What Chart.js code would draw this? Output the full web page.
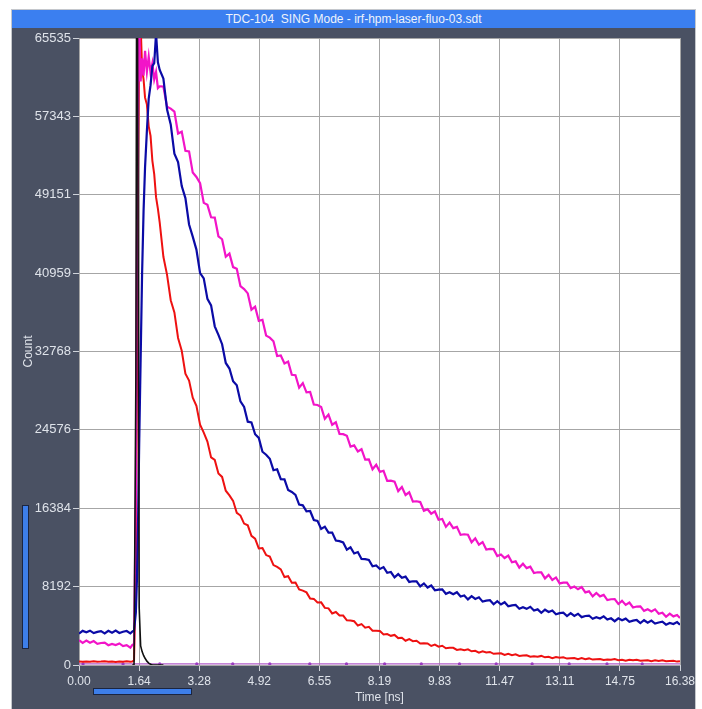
<!DOCTYPE html>
<html>
<head>
<meta charset="utf-8">
<title>TDC-104 SING Mode</title>
<script src="https://cdn.jsdelivr.net/npm/chart.js@4.4.1/dist/chart.umd.min.js"></script>
<style>
  html, body { margin: 0; padding: 0; background: #fff; }
  body { width: 702px; height: 709px; position: relative; overflow: hidden; font-family: "Liberation Sans", Arial, sans-serif; }
  #marco { position: absolute; left: 11px; top: 9px; width: 685px; height: 700px; background: #4a5163; border: 1px solid #c4c7cc; border-bottom: none; box-sizing: border-box; }
  #titulo { position: absolute; left: 12px; top: 10px; width: 683px; height: 18px; background: #3b7ff0; color: #eef3fb; font-size: 12px; line-height: 18px; text-align: center; white-space: pre; }
  #grafico { position: absolute; left: 0; top: 0; }
  .barra { position: absolute; background: #3d7ee9; border: 1px solid #1b2540; box-sizing: border-box; }
</style>
</head>
<body>
<div id="marco"></div>
<div id="titulo">TDC-104  SING Mode - irf-hpm-laser-fluo-03.sdt</div>
<canvas id="grafico" width="702" height="709"></canvas>
<div class="barra" style="left:22px; top:505px; width:7px; height:144px;"></div>
<div class="barra" style="left:93px; top:688px; width:99px; height:7px;"></div>
<script>
// Ejes
const xTicks = [0, 1.638, 3.276, 4.914, 6.552, 8.19, 9.828, 11.466, 13.104, 14.742, 16.38];
const xTickLabels = ['0.00', '1.64', '3.28', '4.92', '6.55', '8.19', '9.83', '11.47', '13.11', '14.75', '16.38'];
const yTicks = [0, 8192, 16384, 24576, 32768, 40959, 49151, 57343, 65535];

// Tiempos (ns) comunes a las tres curvas de decaimiento
const tiempos = [
  0.0, 0.1, 0.2, 0.3, 0.4, 0.5, 0.6, 0.7, 0.8, 0.9, 1.0, 1.1, 1.2, 1.3, 1.4, 1.45,
  1.5, 1.55, 1.58, 1.61, 1.64, 1.68, 1.72, 1.76, 1.8, 1.85, 1.9, 1.95, 2.0, 2.05, 2.1, 2.15,
  2.2, 2.3, 2.4, 2.5, 2.6, 2.7, 2.8, 2.9, 3.0, 3.1,
  3.2, 3.3, 3.4, 3.5, 3.6, 3.7, 3.8, 3.9, 4.0, 4.1,
  4.2, 4.3, 4.4, 4.5, 4.6, 4.7, 4.8, 4.9, 5.0, 5.1,
  5.2, 5.3, 5.4, 5.5, 5.6, 5.7, 5.8, 5.9, 6.0, 6.1,
  6.2, 6.3, 6.4, 6.5, 6.6, 6.7, 6.8, 6.9, 7.0, 7.1,
  7.2, 7.3, 7.4, 7.5, 7.6, 7.7, 7.8, 7.9, 8.0, 8.1,
  8.2, 8.3, 8.4, 8.5, 8.6, 8.7, 8.8, 8.9, 9.0, 9.1,
  9.2, 9.3, 9.4, 9.5, 9.6, 9.7, 9.8, 9.9, 10.0, 10.1,
  10.2, 10.3, 10.4, 10.5, 10.6, 10.7, 10.8, 10.9, 11.0, 11.1,
  11.2, 11.3, 11.4, 11.5, 11.6, 11.7, 11.8, 11.9, 12.0, 12.1,
  12.2, 12.3, 12.4, 12.5, 12.6, 12.7, 12.8, 12.9, 13.0, 13.1,
  13.2, 13.3, 13.4, 13.5, 13.6, 13.7, 13.8, 13.9, 14.0, 14.1,
  14.2, 14.3, 14.4, 14.5, 14.6, 14.7, 14.8, 14.9, 15.0, 15.1,
  15.2, 15.3, 15.4, 15.5, 15.6, 15.7, 15.8, 15.9, 16.0, 16.1,
  16.2, 16.3, 16.38
];

// Curva roja (decaimiento rapido)
const cuentasRojo = [
  360, 330, 370, 345, 380, 335, 355, 390, 340, 360, 325, 375, 350, 385, 340, 365,
  450, 10000, 30000, 52000, 64500, 67000, 62300, 61200, 59300, 58600, 56300, 55300, 52700, 51300, 48900, 47700,
  46230, 42670, 40780, 38130, 36850, 34180, 32840, 30450, 29720, 27930,
  27080, 25120, 24280, 23350, 21700, 21440, 20020, 19660, 18220, 17730,
  17160, 15910, 15620, 14780, 14600, 13500, 13200, 12190, 12220, 11490,
  11330, 10440, 10250, 9990, 9190, 9280, 8610, 8620, 7890, 7770,
  7590, 6940, 6910, 6530, 6550, 5970, 5920, 5390, 5540, 5165,
  5170, 4675, 4650, 4570, 4125, 4280, 3905, 3990, 3580, 3585,
  3545, 3185, 3240, 3050, 3145, 2810, 2840, 2535, 2700, 2490,
  2540, 2245, 2270, 2255, 1990, 2135, 1910, 2010, 1755, 1795,
  1800, 1575, 1650, 1545, 1640, 1430, 1480, 1285, 1430, 1300,
  1365, 1170, 1210, 1220, 1045, 1175, 1030, 1120, 950, 995,
  1010, 860, 925, 865, 950, 800, 850, 715, 840, 750,
  810, 670, 715, 730, 605, 715, 610, 690, 565, 610,
  630, 520, 580, 540, 615, 505, 550, 450, 555, 490,
  545, 440, 478, 500, 400, 495, 415, 488, 388, 426,
  446, 355, 400
];

// Curva azul
const cuentasAzul = [
  3273, 3568, 3426, 3592, 3332, 3462, 3544, 3297, 3580, 3379, 3603, 3344, 3474, 3556, 3308, 3485,
  3600, 5500, 9000, 15000, 23000, 32000, 41000, 47500, 52000, 55800, 59200, 60600, 62600, 62900, 66000, 63000,
  62200, 61290, 58060, 56500, 53440, 52560, 50060, 48800, 46040, 44780,
  43420, 40960, 40410, 38265, 37590, 35400, 34510, 33530, 31570, 30985,
  29660, 29245, 27550, 26980, 25430, 25350, 24120, 23740, 22290, 21980,
  21560, 20360, 20460, 19420, 19410, 18285, 18085, 17780, 16760, 16690,
  16070, 16100, 15160, 15060, 14220, 14460, 13840, 13840, 13010, 12950,
  12810, 12050, 12300, 11660, 11810, 11090, 11070, 10980, 10310, 10400,
  10040, 10230, 9640, 9720, 9170, 9500, 9120, 9240, 8680, 8750,
  8740, 8220, 8530, 8100, 8310, 7810, 7885, 7910, 7440, 7610,
  7390, 7610, 7160, 7275, 6855, 7200, 6905, 7070, 6625, 6725,
  6770, 6350, 6670, 6325, 6560, 6130, 6230, 6270, 5875, 6045,
  5870, 6085, 5695, 5815, 5455, 5780, 5540, 5700, 5310, 5425,
  5475, 5120, 5430, 5135, 5355, 5000, 5120, 5170, 4830, 5000,
  4865, 5085, 4755, 4880, 4575, 4880, 4685, 4845, 4515, 4635,
  4700, 4385, 4680, 4420, 4645, 4330, 4445, 4520, 4210, 4390,
  4280, 4485, 4200
];

// Curva magenta (decaimiento lento)
const cuentasMagenta = [
  2590, 2315, 2550, 2320, 2500, 2210, 2300, 2345, 2065, 2200, 2085, 2255, 1975, 2075, 1810, 2080,
  2200, 18000, 44000, 58500, 67000, 61000, 63400, 61600, 64200, 62000, 63600, 61900, 62900, 61200, 62000, 60300,
  60490, 60470, 58340, 58155, 57840, 55550, 55745, 53740, 53680, 51470,
  51015, 50365, 48305, 48095, 46800, 46760, 44810, 44500, 42665, 43000,
  41590, 41415, 39590, 39300, 38840, 37135, 37455, 35975, 36085, 34430,
  34215, 33830, 32290, 32355, 31515, 31710, 30330, 30290, 28980, 29460,
  28495, 28550, 27225, 27175, 26975, 25735, 26180, 25110, 25370, 24150,
  24130, 23965, 22825, 22950, 22320, 22555, 21460, 21495, 20465, 20935,
  20190, 20300, 19250, 19270, 19160, 18180, 18610, 17770, 18050, 17080,
  17115, 17030, 16125, 16285, 15805, 16050, 15180, 15260, 14440, 14885,
  14305, 14440, 13600, 13665, 13615, 12830, 13240, 12575, 12845, 12070,
  12140, 12110, 11380, 11555, 11185, 11430, 10735, 10835, 10180, 10590,
  10130, 10280, 9605, 9690, 9680, 9050, 9420, 8890, 9150, 8525,
  8610, 8615, 8030, 8200, 7915, 8150, 7590, 7695, 7170, 7535,
  7175, 7325, 6780, 6870, 6885, 6375, 6710, 6285, 6525, 6015,
  6110, 6130, 5660, 5820, 5600, 5815, 5360, 5470, 5040, 5370,
  5080, 5225, 4900
];

// Respuesta del instrumento (IRF)
const irfTiempos = [1.45, 1.5, 1.55, 1.58, 1.61, 1.64, 1.68, 1.72, 1.76, 1.8, 1.85, 1.9, 1.95, 2.0, 2.3];
const irfCuentas = [0, 0, 30000, 90000, 45000, 6000, 2000, 1400, 1000, 700, 400, 200, 80, 0, 0];

// Linea violeta casi en cero
const violetaTiempos = [0, 0.11, 1.2, 2.2, 3.21, 4.19, 5.2, 6.29, 7.29, 8.33, 9.33, 10.37, 11.37, 12.35, 13.36, 14.39, 15.35, 16.38];
const violetaCuentas = [120, 120, 120, 120, 120, 120, 120, 120, 120, 120, 120, 120, 120, 120, 120, 120, 120, 120];

const aPuntos = (xs, ys) => xs.map((t, i) => ({ x: t, y: ys[i] }));

const fondoBlanco = {
  id: 'fondoBlanco',
  beforeDraw(chart) {
    const { ctx, chartArea: a } = chart;
    ctx.save();
    ctx.fillStyle = '#ffffff';
    ctx.fillRect(a.left, a.top, a.right - a.left, a.bottom - a.top);
    ctx.restore();
  }
};

const colorTexto = '#dfe3ea';

new Chart(document.getElementById('grafico'), {
  type: 'line',
  data: {
    datasets: [
      { label: 'IRF', data: aPuntos(irfTiempos, irfCuentas), borderColor: '#111111', borderWidth: 1.6 },
      { label: 'Azul', data: aPuntos(tiempos, cuentasAzul), borderColor: '#0b0ba6', borderWidth: 2.2 },
      { label: 'Magenta', data: aPuntos(tiempos, cuentasMagenta), borderColor: '#f214c8', borderWidth: 2.2 },
      { label: 'Rojo', data: aPuntos(tiempos, cuentasRojo), borderColor: '#ee1111', borderWidth: 2 },
      {
        label: 'Violeta', data: aPuntos(violetaTiempos, violetaCuentas), borderColor: '#b05cc8', borderWidth: 1.2,
        pointRadius: ctx => (ctx.dataIndex > 0 && ctx.dataIndex < violetaTiempos.length - 1 ? 1.6 : 0),
        pointBackgroundColor: '#9a3cc0', pointBorderWidth: 0
      }
    ]
  },
  options: {
    responsive: false,
    animation: false,
    elements: { point: { radius: 0 }, line: { tension: 0 } },
    layout: { padding: { left: 12, right: 22, top: 38, bottom: 0 } },
    plugins: { legend: { display: false }, tooltip: { enabled: false }, title: { display: false } },
    scales: {
      x: {
        type: 'linear',
        min: 0,
        max: 16.38,
        afterBuildTicks: s => { s.ticks = xTicks.map(v => ({ value: v })); },
        afterFit: s => { s.height = 44; },
        border: { display: false },
        grid: { color: '#a6a6a6', tickColor: '#cfd3da', tickLength: 6 },
        ticks: {
          autoSkip: false, maxRotation: 0, padding: 3, color: colorTexto,
          font: { family: '"Liberation Sans", Arial, sans-serif', size: 12 },
          callback: (v, i) => xTickLabels[i]
        },
        title: {
          display: true, text: 'Time [ns]', color: colorTexto,
          font: { family: '"Liberation Sans", Arial, sans-serif', size: 12 },
          padding: { top: 0, bottom: 4 }
        }
      },
      y: {
        min: 0,
        max: 65535,
        afterBuildTicks: s => { s.ticks = yTicks.map(v => ({ value: v })); },
        afterFit: s => { s.width = 67; },
        border: { display: false },
        grid: { color: '#a6a6a6', tickColor: '#cfd3da', tickLength: 6 },
        ticks: {
          autoSkip: false, padding: 2, color: colorTexto,
          font: { family: '"Liberation Sans", Arial, sans-serif', size: 13 },
          callback: v => String(v)
        },
        title: {
          display: true, text: 'Count', color: colorTexto,
          font: { family: '"Liberation Sans", Arial, sans-serif', size: 12 },
          padding: { top: 9, bottom: 0 }
        }
      }
    }
  },
  plugins: [fondoBlanco]
});
</script>
</body>
</html>
